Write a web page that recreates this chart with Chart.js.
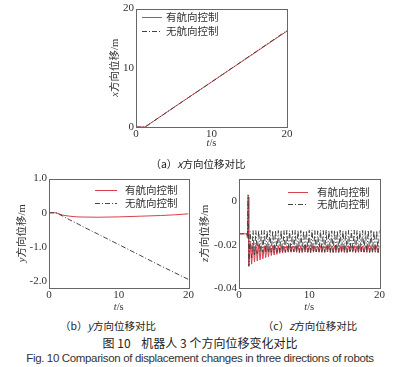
<!DOCTYPE html>
<html>
<head>
<meta charset="utf-8">
<script src="https://cdn.jsdelivr.net/npm/chart.js@4.4.0/dist/chart.umd.min.js"></script>
<style>
body { margin: 0; background: #fff; width: 400px; height: 367px; position: relative; overflow: hidden; font-family: 'Noto Sans CJK SC', sans-serif; color: #222; }
canvas { position: absolute; }
.cap { position: absolute; white-space: nowrap; transform: translate(-50%, -50%); font-size: 10.5px; }
</style>
</head>
<body>
<canvas id="cx" width="200" height="152" style="left:95px;top:0px"></canvas>
<canvas id="cy" width="195" height="146" style="left:0px;top:170px"></canvas>
<canvas id="cz" width="190" height="146" style="left:196px;top:170px"></canvas>

<div class="cap" style="left:198px;top:163px">（a）<i>x</i>方向位移对比</div>
<div class="cap" style="left:108px;top:325px">（b）<i>y</i>方向位移对比</div>
<div class="cap" style="left:310px;top:325px">（c）<i>z</i>方向位移对比</div>
<div class="cap" style="left:200px;top:342px;font-size:12px">图 10&nbsp;&nbsp;&nbsp;&nbsp;机器人 3 个方向位移变化对比</div>
<div class="cap" style="left:200px;top:358px;font-size:11.5px;font-family:'Liberation Sans',sans-serif;letter-spacing:-0.35px;color:#333">Fig. 10 Comparison of displacement changes in three directions of robots</div>

<script>
const legendNames = ['有航向控制', '无航向控制'];
const tTicks = [0, 10, 20];

// (a) x direction
const xT = [0, 1.2, 5, 10, 15, 20];
const xRed = [0, 0, 3.3, 7.6, 11.9, 16.2];
const xBlack = [0, 0, 3.3, 7.6, 11.95, 16.3];
const xTicks = [0, 10, 20];

// (b) y direction
const yT = [0, 1, 2, 3, 4, 5, 7, 10, 13, 16, 18, 20];
const yRed = [0, 0, -0.07, -0.1, -0.12, -0.125, -0.13, -0.12, -0.1, -0.08, -0.06, -0.03];
const yBlack = [0, 0, -0.1, -0.21, -0.31, -0.42, -0.62, -0.93, -1.24, -1.55, -1.75, -1.95];
const yTicks = [1.0, 0, -1.0, -2.0];

// (c) z direction
const zT = [0, 1.1, 1.2, 1.3,
  1.4, 1.6, 1.8, 2.0, 2.2, 2.4, 2.6, 2.8, 3.0, 3.2,
  3.4, 3.6, 3.8, 4.0, 4.2, 4.4, 4.6, 4.8, 5.0, 5.2,
  5.4, 5.6, 5.8, 6.0, 6.2, 6.4, 6.6, 6.8, 7.0, 7.2,
  7.4, 7.6, 7.8, 8.0, 8.2, 8.4, 8.6, 8.8, 9.0, 9.2,
  9.4, 9.6, 9.8, 10.0, 10.2, 10.4, 10.6, 10.8, 11.0, 11.2,
  11.4, 11.6, 11.8, 12.0, 12.2, 12.4, 12.6, 12.8, 13.0, 13.2,
  13.4, 13.6, 13.8, 14.0, 14.2, 14.4, 14.6, 14.8, 15.0, 15.2,
  15.4, 15.6, 15.8, 16.0, 16.2, 16.4, 16.6, 16.8, 17.0, 17.2,
  17.4, 17.6, 17.8, 18.0, 18.2, 18.4, 18.6, 18.8, 19.0, 19.2,
  19.4, 19.6, 19.8, 20.0];
const zRed = [-0.015, -0.015, -0.017, 0.002,
  -0.0295, -0.019, -0.029, -0.0195, -0.028, -0.02, -0.0275, -0.02, -0.027, -0.0205,
  -0.0265, -0.0205, -0.026, -0.0205, -0.0255, -0.0205, -0.025, -0.0205, -0.0248, -0.0205,
  -0.0245, -0.0205, -0.024, -0.0205, -0.0238, -0.0206, -0.0236, -0.0205, -0.0235, -0.0205,
  -0.0235, -0.0206, -0.0234, -0.0205, -0.0235, -0.0204, -0.0236, -0.0205, -0.0235, -0.0206,
  -0.0234, -0.0205, -0.0235, -0.0205, -0.0236, -0.0204, -0.0235, -0.0205, -0.0234, -0.0206,
  -0.0235, -0.0205, -0.0236, -0.0205, -0.0235, -0.0204, -0.0234, -0.0205, -0.0235, -0.0206,
  -0.0236, -0.0205, -0.0235, -0.0205, -0.0234, -0.0204, -0.0235, -0.0206, -0.0236, -0.0205,
  -0.0235, -0.0205, -0.0234, -0.0206, -0.0235, -0.0204, -0.0236, -0.0205, -0.0235, -0.0205,
  -0.0234, -0.0206, -0.0235, -0.0205, -0.0236, -0.0204, -0.0235, -0.0205, -0.0234, -0.0206,
  -0.0235, -0.0205, -0.0236, -0.0205];
const zBlack = [-0.015, -0.015, -0.016, 0.003,
  -0.03, -0.014, -0.026, -0.0135, -0.025, -0.0135, -0.024, -0.0133, -0.0236, -0.0135,
  -0.0235, -0.0134, -0.0236, -0.0135, -0.0234, -0.0133, -0.0235, -0.0136, -0.0236, -0.0134,
  -0.0235, -0.0135, -0.0234, -0.0133, -0.0236, -0.0135, -0.0235, -0.0134, -0.0235, -0.0136,
  -0.0236, -0.0135, -0.0234, -0.0134, -0.0235, -0.0133, -0.0236, -0.0135, -0.0235, -0.0136,
  -0.0234, -0.0135, -0.0235, -0.0134, -0.0236, -0.0133, -0.0235, -0.0135, -0.0234, -0.0136,
  -0.0235, -0.0134, -0.0236, -0.0135, -0.0235, -0.0133, -0.0234, -0.0135, -0.0236, -0.0136,
  -0.0235, -0.0134, -0.0235, -0.0135, -0.0236, -0.0133, -0.0234, -0.0135, -0.0235, -0.0136,
  -0.0236, -0.0134, -0.0235, -0.0135, -0.0234, -0.0133, -0.0235, -0.0135, -0.0236, -0.0136,
  -0.0235, -0.0134, -0.0234, -0.0135, -0.0235, -0.0133, -0.0236, -0.0135, -0.0235, -0.0136,
  -0.0234, -0.0135, -0.0236, -0.0134];
const zTicks = [0, -0.02, -0.04];

const RED = '#d8404c';
const BLACK = '#444';
const DASH = [5, 2, 1, 2];
const tickFont = { family: "'Liberation Serif', serif", size: 11 };

// frame, legend inside the plot and axis titles with an italic letter
const decor = {
  id: 'decor',
  afterDraw(chart, args, o) {
    const { ctx, chartArea: a } = chart;
    ctx.save();
    ctx.strokeStyle = '#666';
    ctx.lineWidth = 1;
    ctx.strokeRect(Math.round(a.left) + 0.5, Math.round(a.top) + 0.5, Math.round(a.right - a.left), Math.round(a.bottom - a.top));

    // legend
    const lg = o.legend;
    [RED, BLACK].forEach((c, i) => {
      const y = Math.round(a.top + lg.y[i]) + 0.5;
      ctx.beginPath();
      ctx.strokeStyle = c;
      ctx.setLineDash(i ? DASH : []);
      ctx.moveTo(a.left + lg.x0, y);
      ctx.lineTo(a.left + lg.x1, y);
      ctx.stroke();
      ctx.setLineDash([]);
      ctx.fillStyle = '#333';
      ctx.font = "10.5px 'Noto Sans CJK SC', sans-serif";
      ctx.textBaseline = 'middle';
      ctx.textAlign = 'left';
      ctx.fillText(legendNames[i], a.left + lg.tx, y);
    });

    // titles
    const drawParts = (parts, cx, cy, rot) => {
      ctx.save();
      ctx.translate(cx, cy);
      if (rot) ctx.rotate(-Math.PI / 2);
      ctx.fillStyle = '#333';
      ctx.textBaseline = 'middle';
      ctx.textAlign = 'left';
      const fonts = parts.map(p => (p.i ? 'italic ' : '') + "10.5px 'Liberation Serif', 'Noto Sans CJK SC', serif");
      let w = 0;
      parts.forEach((p, k) => { ctx.font = fonts[k]; w += ctx.measureText(p.s).width; });
      let x = -w / 2;
      parts.forEach((p, k) => { ctx.font = fonts[k]; ctx.fillText(p.s, x, 0); x += ctx.measureText(p.s).width; });
      ctx.restore();
    };
    drawParts(o.yTitle, o.yTitleX, (a.top + a.bottom) / 2, true);
    drawParts([{ s: 't', i: true }, { s: '/s' }], (a.left + a.right) / 2, o.xTitleY, false);
    ctx.restore();
  }
};

function makeChart(id, cfg) {
  const pts = arr => cfg.t.map((t, i) => ({ x: t, y: arr[i] }));
  return new Chart(document.getElementById(id), {
    type: 'line',
    data: {
      datasets: [
        { label: legendNames[1], data: pts(cfg.black), borderColor: BLACK, borderWidth: 1, borderDash: DASH, pointRadius: 0, tension: 0, order: 0 },
        { label: legendNames[0], data: pts(cfg.red), borderColor: RED, borderWidth: 1, pointRadius: 0, tension: 0, order: 1 }
      ]
    },
    options: {
      responsive: false,
      animation: false,
      events: [],
      layout: { padding: cfg.pad },
      plugins: {
        legend: { display: false },
        tooltip: { enabled: false },
        decor: { legend: cfg.legend, yTitle: cfg.yTitle, yTitleX: cfg.yTitleX, xTitleY: cfg.xTitleY }
      },
      scales: {
        x: {
          type: 'linear', min: 0, max: 20,
          afterBuildTicks: s => { s.ticks = tTicks.map(v => ({ value: v })); },
          afterFit: s => { s.height = cfg.xh; },
          grid: { display: false, drawTicks: false },
          border: { display: false },
          ticks: { font: tickFont, color: '#333', padding: 1, maxRotation: 0 }
        },
        y: {
          type: 'linear', min: cfg.min, max: cfg.max,
          afterBuildTicks: s => { s.ticks = cfg.ticks.map(v => ({ value: v })); },
          afterFit: s => { s.width = cfg.yw; },
          grid: { display: false, drawTicks: false },
          border: { display: false },
          ticks: { font: tickFont, color: '#333', padding: 2, callback: cfg.fmt }
        }
      }
    },
    plugins: [decor]
  });
}

makeChart('cx', {
  t: xT, red: xRed, black: xBlack, ticks: xTicks, min: 0, max: 20,
  fmt: v => String(v),
  pad: { top: 7, right: 8, left: 0, bottom: 0 }, yw: 41, xh: 25,
  legend: { x0: 6, x1: 26, tx: 30, y: [8, 22] },
  yTitle: [{ s: 'x', i: true }, { s: '方向位移/m' }], yTitleX: 20, xTitleY: 143
});

makeChart('cy', {
  t: yT, red: yRed, black: yBlack, ticks: yTicks, min: -2.2, max: 1.0,
  fmt: v => v === 0 ? '0' : v.toFixed(1),
  pad: { top: 8, right: 6, left: 0, bottom: 0 }, yw: 49, xh: 28,
  legend: { x0: 46, x1: 68, tx: 76, y: [11, 24] },
  yTitle: [{ s: 'y', i: true }, { s: '方向位移/m' }], yTitleX: 22, xTitleY: 137
});

makeChart('cz', {
  t: zT, red: zRed, black: zBlack, ticks: zTicks, min: -0.04, max: 0.0105,
  fmt: v => v === 0 ? '0' : v.toFixed(2),
  pad: { top: 7, right: 6, left: 0, bottom: 0 }, yw: 43, xh: 28,
  legend: { x0: 49, x1: 69, tx: 78, y: [13, 25] },
  yTitle: [{ s: 'z', i: true }, { s: '方向位移/m' }], yTitleX: 9, xTitleY: 137
});
</script>
</body>
</html>
